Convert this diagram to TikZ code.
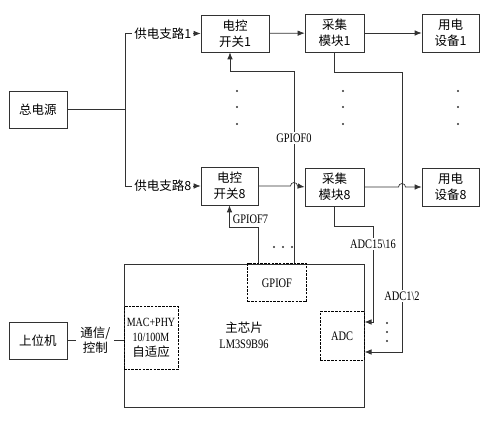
\documentclass[tikz,border=0pt]{standalone}
\usepackage{fontspec}
\setmainfont{Liberation Serif}[FakeStretch=0.8]
\newfontfamily\cjk{Noto Sans CJK SC}
\usepackage{tikz}
\usetikzlibrary{arrows.meta, calc, positioning}
\definecolor{linegray}{RGB}{50, 50, 50}

\begin{document}
\begin{tikzpicture}[x=1pt, y=-1pt, >={Latex[length=7pt, width=5.5pt]},
    blockbox/.style={rectangle, draw=linegray, line width=0.7pt, align=center, inner sep=1pt, font=\cjk\fontsize{12.5}{16}\selectfont},
    dashbox/.style={rectangle, draw=black, line width=1pt, dash pattern=on 2.5pt off 1.2pt, align=center, inner sep=1pt, font=\fontsize{13}{15}\selectfont},
    wire/.style={draw=linegray, line width=0.7pt},
    arrow/.style={wire, ->},
    tag/.style={fill=white, inner sep=1.5pt, font=\fontsize{13}{15}\selectfont},
    cntag/.style={fill=white, inner sep=2pt, align=center, font=\cjk\fontsize{12.5}{15}\selectfont}]

    \useasboundingbox (0,0) rectangle (493,422);

    % Power branches
    \node[blockbox, minimum width=58pt, minimum height=37pt] (power) at (38,109.5) {总电源};
    \node[blockbox, minimum width=68pt, minimum height=37pt] (sw1) at (235,33.5) {电控\\开关1};
    \node[blockbox, minimum width=59pt, minimum height=38pt] (col1) at (334.5,33) {采集\\模块1};
    \node[blockbox, minimum width=57pt, minimum height=38pt] (dev1) at (450.5,33) {用电\\设备1};
    \node[blockbox, minimum width=57pt, minimum height=38pt] (sw8) at (229.5,186) {电控\\开关8};
    \node[blockbox, minimum width=59pt, minimum height=38pt] (col8) at (334.5,187) {采集\\模块8};
    \node[blockbox, minimum width=57pt, minimum height=38pt] (dev8) at (450.5,187) {用电\\设备8};

    % Main chip
    \node[blockbox, minimum width=240pt, minimum height=143pt] (chip) at (244,335.5) {主芯片\\{\rmfamily\fontsize{13}{15}\selectfont LM3S9B96}};
    \node[dashbox, minimum width=54pt, minimum height=62pt, font=\fontsize{12.5}{15}\selectfont] (mac) at (151,338) {MAC+PHY\\10/100M\\{\cjk\fontsize{12.5}{15}\selectfont 自适应}};
    \node[dashbox, minimum width=59pt, minimum height=38pt] (gpiof) at (277,283) {GPIOF};
    \node[dashbox, minimum width=44pt, minimum height=48pt] (adc) at (342,336) {ADC};
    \node[blockbox, minimum width=58pt, minimum height=37pt] (host) at (38,340.5) {上位机};

    % Turning points
    \coordinate (bus) at (125,110);
    \coordinate (g0) at (294,71);
    \coordinate (g7) at (258,227);
    \coordinate (a12) at (402,72);
    \coordinate (a16) at (373,226);
    \coordinate (adc2) at ([yshift=-16pt]adc.east);
    \coordinate (adc16) at ([yshift=14pt]adc.east);

    % Links
    \draw[wire] (power.east) -- (power.east -| bus);
    \draw[wire] (bus |- sw1.west) -- (bus |- sw8.west);
    \draw[arrow] (bus |- sw1.west) -- node[cntag] {供电支路1} (sw1.west);
    \draw[arrow] (bus |- sw8.west) -- node[cntag] {供电支路8} (sw8.west);
    \draw[arrow] (sw1) -- (col1);
    \draw[arrow] (col1) -- (dev1);
    \draw[arrow] (sw8.east) -- ($(g0 |- sw8.east)+(-3.5pt,0)$) arc[start angle=180, end angle=0, radius=3.5pt] -- (col8.west);
    \draw[arrow] (col8.east) -- ($(a12 |- col8.east)+(-3.5pt,0)$) arc[start angle=180, end angle=0, radius=3.5pt] -- (dev8.west);

    \draw[arrow] (g0 |- gpiof.north) -- node[tag, pos=0.65] {GPIOF0} (g0) -| ([xshift=-5pt]sw1.south);
    \draw[arrow] (g7 |- gpiof.north) -- (g7) -| node[right, pos=0.68, inner sep=3pt, font=\fontsize{13}{15}\selectfont] {GPIOF7} (sw8.south);
    \draw[arrow] (col8.south) |- (a16) -- node[tag, pos=0.19] {ADC15\textbackslash16} (a16 |- adc16) -- (adc16);
    \draw[arrow] (col1.south) |- (a12) -- node[tag, pos=0.8] {ADC1\textbackslash2} (a12 |- adc2) -- (adc2);
    \draw[wire] (host.east) -- node[cntag, inner sep=4pt] {通信/\\控制} (host.east -| mac.west);

    % Omitted channels
    \foreach \x in {237,343,458}
        \foreach \y in {91,107,124}
            \fill[linegray] (\x,\y) circle[radius=1.1pt];
    \foreach \x in {274,283,292}
        \fill[linegray] (\x,247) circle[radius=1.1pt];
    \foreach \y in {323,332,341}
        \fill[linegray] (387,\y) circle[radius=1.1pt];
\end{tikzpicture}
\end{document}
